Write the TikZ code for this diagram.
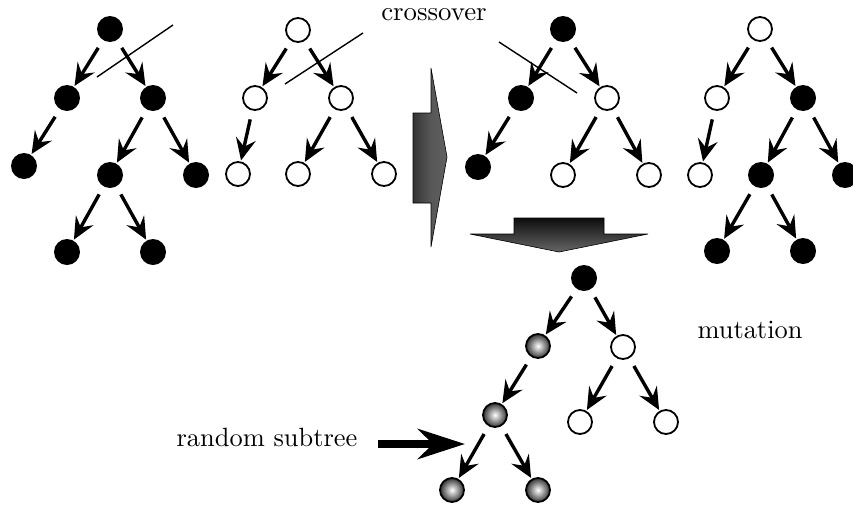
\documentclass[tikz,border=0pt]{standalone}
\usetikzlibrary{arrows.meta,shadings}
\begin{document}
\begin{tikzpicture}[x=1pt,y=1pt,
  bnode/.style={circle,fill=black,minimum size=26pt,inner sep=0pt},
  wnode/.style={circle,draw=black,line width=1.8pt,fill=white,minimum size=24pt,inner sep=0pt},
  gnode/.style={circle,draw=black,line width=1.8pt,inner color=white,outer color=black!80,minimum size=24pt,inner sep=0pt},
  edge/.style={line width=3.4pt,-{Stealth[length=22pt,width=20pt,inset=8pt]},shorten <=9pt,shorten >=1pt},
  cut/.style={line width=1.4pt},
  lbl/.style={anchor=base,inner sep=0pt}]
\useasboundingbox (0,0) rectangle (853,-509);
% tree 1
\node[bnode] (a1) at (110,-29) {};
\node[bnode] (a2) at (67,-98) {};
\node[bnode] (a3) at (153,-98) {};
\node[bnode] (a4) at (24,-166) {};
\node[bnode] (a5) at (110,-175) {};
\node[bnode] (a6) at (196,-175) {};
\node[bnode] (a7) at (67,-252) {};
\node[bnode] (a8) at (153,-252) {};
\foreach \p/\c in {a1/a2,a1/a3,a2/a4,a3/a5,a3/a6,a5/a7,a5/a8} \draw[edge] (\p) -- (\c);
\coordinate (ca1) at (97,-77); \coordinate (ca2) at (173,-25);
\draw[cut] (ca1) -- (ca2);
% tree 2
\node[wnode] (b1) at (298,-30) {};
\node[wnode] (b2) at (255,-98) {};
\node[wnode] (b3) at (341,-98) {};
\node[wnode] (b4) at (238,-174) {};
\node[wnode] (b5) at (298,-174) {};
\node[wnode] (b6) at (384,-174) {};
\foreach \p/\c in {b1/b2,b1/b3,b2/b4,b3/b5,b3/b6} \draw[edge] (\p) -- (\c);
\coordinate (cb1) at (285,-84); \coordinate (cb2) at (363,-33);
\draw[cut] (cb1) -- (cb2);
% tree 3
\node[bnode] (c1) at (563,-29) {};
\node[bnode] (c2) at (521,-98) {};
\node[wnode] (c3) at (607,-98) {};
\node[bnode] (c4) at (478,-167) {};
\node[wnode] (c5) at (563,-175) {};
\node[wnode] (c6) at (649,-175) {};
\foreach \p/\c in {c1/c2,c1/c3,c2/c4,c3/c5,c3/c6} \draw[edge] (\p) -- (\c);
\coordinate (cc1) at (499,-42); \coordinate (cc2) at (577,-93);
\draw[cut] (cc1) -- (cc2);
% tree 4
\node[wnode] (d1) at (760,-29) {};
\node[wnode] (d2) at (717,-98) {};
\node[bnode] (d3) at (803,-98) {};
\node[wnode] (d4) at (700,-175) {};
\node[bnode] (d5) at (761,-175) {};
\node[bnode] (d6) at (845,-175) {};
\node[bnode] (d7) at (717,-251) {};
\node[bnode] (d8) at (803,-251) {};
\foreach \p/\c in {d1/d2,d1/d3,d2/d4,d3/d5,d3/d6,d5/d7,d5/d8} \draw[edge] (\p) -- (\c);
% tree 5
\node[bnode] (e1) at (584,-278) {};
\node[gnode] (e2) at (538,-346) {};
\node[wnode] (e3) at (623,-347) {};
\node[gnode] (e4) at (495,-415) {};
\node[wnode] (e5) at (580,-422) {};
\node[wnode] (e6) at (666,-422) {};
\node[gnode] (e7) at (452,-490) {};
\node[gnode] (e8) at (538,-490) {};
\foreach \p/\c in {e1/e2,e1/e3,e2/e4,e3/e5,e3/e6,e4/e7,e4/e8} \draw[edge] (\p) -- (\c);
% big right arrow
\draw[line width=0.6pt,left color=black!80,right color=black!62,middle color=black!66]
  (413,-113) -- (431,-113) -- (431,-68) -- (447,-157) -- (431,-247) -- (431,-203) -- (413,-203) -- cycle;
% big down arrow
\draw[line width=0.6pt,top color=black!95,bottom color=black!60]
  (514,-218) -- (604,-218) -- (604,-234) -- (648,-234) -- (559,-252) -- (470,-234) -- (514,-234) -- cycle;
% labels
\node[lbl] (t1) at (434,-20) {\scalebox{2.68}{crossover}};
\node[lbl] (t2) at (750,-338) {\scalebox{2.64}{mutation}};
\node[lbl] (t3) at (267,-446) {\scalebox{2.64}{random subtree}};
% random subtree arrow
\coordinate (rs1) at (378,-444);
\coordinate (rs2) at (465,-444);
\draw[line width=8pt,-{Stealth[length=47pt,width=30pt,inset=15pt]}] (rs1) -- (rs2);
\end{tikzpicture}
\end{document}
